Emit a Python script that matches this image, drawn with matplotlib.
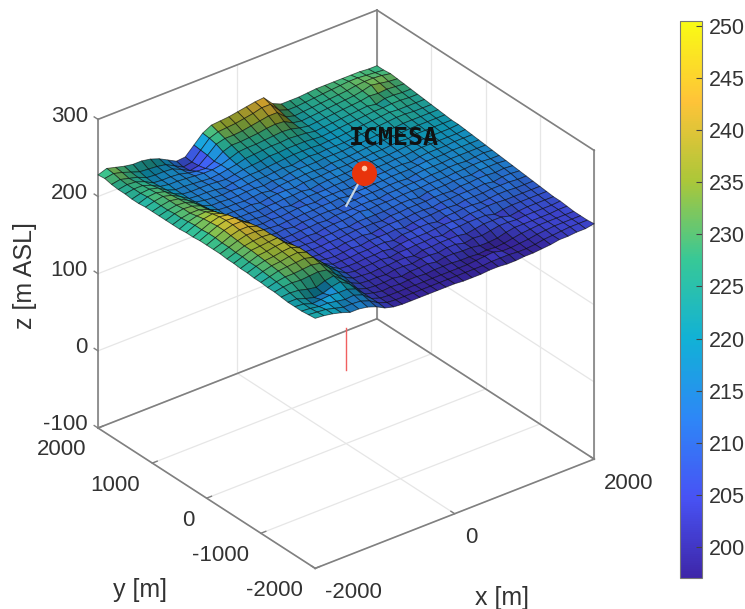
import numpy as np
import matplotlib
matplotlib.use('Agg')
import matplotlib.pyplot as plt
from matplotlib.colors import LinearSegmentedColormap, Normalize
from matplotlib.cm import ScalarMappable
from mpl_toolkits.mplot3d import proj3d

plt.rcParams['font.family'] = ['Liberation Sans', 'DejaVu Sans']

W, H = 745, 609

x_ticks = [-2000, 0, 2000]
y_ticks = [-2000, -1000, 0, 1000, 2000]
z_ticks = [-100, 0, 100, 200, 300]
cbar_ticks = [200, 205, 210, 215, 220, 225, 230, 235, 240, 245, 250]
site_name = 'ICMESA'
site_x, site_y, site_z = -50, -68, 213
head_x, head_y, head_z = 207, -68, 247
cmin, cmax = 197, 250.5

x_vals = np.linspace(-2000, 2000, 33)
y_vals = np.linspace(2000, -2000, 33)

# terrain heights, rows go from y=2000 to y=-2000
z_rows = [
    [228,232,229,226,224,224,222, 218,212,206,207,218,229,235,236,237,239,241,243,244,232,227,227,227,228,229,229,229,229,229,229,228,228],
    [229,231,228,224,220,219,218, 216,210,204,206,217,228,232,233,234,236,238,241,241,229,225,225,226,227,228,229,230,231,231,230,229,228],
    [227,229,226,223,218,217,217, 216,211,205,207,216,226,229,229,230,232,234,236,236,226,223,224,225,226,227,228,229,231,232,232,231,229],
    [226,228,227,223,217,216,216, 215,212,210,209,214,222,226,226,227,228,230,231,230,224,222,223,224,225,226,227,228,230,233,231,229,228],
    [226,228,228,224,218,216,216, 215,214,213,213,215,219,223,224,224,225,226,227,226,223,221,222,223,224,225,226,227,229,228,229,228,227],
    [225,228,229,226,219,215,215, 214,213,212,213,215,217,220,221,222,223,223,224,223,222,220,221,222,223,224,225,226,224,227,227,226,226],
    [225,229,230,227,220,215,214, 214,214,213,212,214,216,217,218,220,220,221,221,221,220,219,220,221,222,223,224,225,225,226,226,225,225],
    [226,229,231,228,222,215,214, 214,213,211,213,214,215,215,216,217,218,219,219,219,218,219,219,220,221,222,223,224,225,224,224,224,224],
    [226,229,231,229,223,216,214, 213,212,213,212,213,214,214,215,216,215,217,218,217,218,218,218,219,220,221,222,223,224,224,223,223,223],
    [226,229,231,230,225,217,213, 213,212,212,213,213,212,214,213,215,216,216,216,217,217,217,218,218,219,220,221,221,222,222,222,222,222],
    [226,230,232,231,227,218,213, 212,212,211,212,213,211,213,214,214,215,215,214,216,216,216,217,218,218,219,220,220,221,221,221,221,221],
    [226,230,232,232,228,220,212, 212,211,212,210,212,213,213,212,214,214,214,215,215,215,216,216,217,217,218,219,218,220,220,220,220,220],
    [226,231,234,235,231,222,213, 211,211,210,211,211,212,212,213,211,213,214,214,214,215,215,216,216,216,217,218,218,219,219,219,219,220],
    [227,232,236,238,234,224,213, 211,210,209,210,211,209,211,212,212,212,213,213,214,214,213,215,215,216,216,217,218,218,218,218,218,219],
    [227,232,237,240,238,228,214, 210,209,210,209,210,211,211,210,212,212,212,211,213,213,214,214,215,215,214,216,217,217,217,218,218,218],
    [228,233,238,241,240,231,215, 210,209,208,209,209,210,210,211,211,212,210,212,212,213,213,214,214,214,215,216,216,216,217,217,217,217],
    [228,233,238,241,241,234,216, 209,208,209,207,209,209,210,210,209,211,211,212,212,212,213,213,212,214,215,215,215,216,216,216,216,216],
    [228,232,237,240,240,236,218, 208,207,207,208,208,209,208,210,210,210,211,211,210,212,212,213,213,213,214,214,215,215,214,215,216,215],
    [228,232,236,239,239,237,221, 207,207,206,207,206,208,209,209,210,212,210,211,211,211,212,212,212,213,213,213,214,214,215,215,214,214],
    [227,231,235,237,238,237,224, 206,206,206,205,207,207,208,207,209,209,209,209,210,211,211,209,212,212,212,213,213,212,214,214,214,213],
    [227,231,235,236,237,238,227, 212,206,205,205,206,206,207,208,208,208,207,209,209,210,210,210,211,211,210,212,212,213,213,212,213,212],
    [226,230,234,235,237,238,230, 214,205,204,205,204,206,206,207,205,207,208,208,208,209,209,208,210,210,211,211,211,212,210,212,212,211],
    [226,230,233,234,236,237,232, 216,206,204,203,204,205,204,206,206,206,207,205,207,208,208,209,209,208,210,210,210,211,211,211,210,210],
    [225,229,232,233,235,236,232, 218,208,203,203,203,204,204,205,205,203,206,206,207,207,205,208,208,209,209,208,209,210,210,209,209,209],
    [225,228,231,232,233,234,231, 220,210,203,202,202,203,203,204,202,204,205,205,205,206,207,207,206,208,208,209,209,208,208,208,208,208],
    [224,227,229,229,230,231,229, 219,210,203,201,202,202,203,201,203,203,204,204,205,203,206,206,207,207,207,204,206,207,207,207,207,207],
    [224,226,227,226,227,228,226, 216,208,202,201,200,201,201,202,202,200,203,203,204,204,204,202,204,206,206,206,203,205,206,206,206,206],
    [223,224,223,220,218,222,224, 215,206,201,200,200,199,201,201,200,202,202,201,203,203,200,202,201,203,205,205,204,205,205,205,205,206],
    [222,222,218,215,216,220,222, 215,204,200,199,199,200,198,200,200,201,199,201,201,200,200,198,198,199,202,204,204,204,204,204,205,205],
    [222,221,217,218,219,218,218, 214,203,200,198,199,198,199,199,198,199,199,199,198,198,197,198,197,198,200,202,203,204,204,204,204,204],
    [222,221,219,219,217,215,216, 212,203,199,198,198,198,198,198,198,198,198,198,198,199,200,201,198,198,199,200,202,203,204,204,204,204],
    [223,222,221,218,215,215,214, 210,203,199,198,198,198,198,198,198,198,198,198,198,198,199,199,199,198,198,199,201,202,203,204,204,204],
    [224,223,221,218,214,214,212, 208,202,199,198,198,198,198,198,198,198,197,197,197,198,198,197,197,198,198,199,200,202,202,203,203,205],
]

parula = LinearSegmentedColormap.from_list('parula', [
    (0.2422, 0.1504, 0.6603), (0.2810, 0.3228, 0.9579), (0.1786, 0.5289, 0.9682),
    (0.0689, 0.6948, 0.8394), (0.2161, 0.7843, 0.5923), (0.6720, 0.7793, 0.2227),
    (0.9970, 0.7659, 0.2199), (0.9769, 0.9839, 0.0805)], N=256)
norm = Normalize(cmin, cmax)


def px(x, y):
    return x / W, 1 - y / H


fig = plt.figure(figsize=(W / 100, H / 100), dpi=100)
ax = fig.add_axes([0.1, 0.1, 0.7, 0.8], projection='3d', computed_zorder=False)
ax.set_proj_type('ortho')
ax.view_init(elev=30.2, azim=-127.9)
ax.set_box_aspect((1, 1, 1.01))
ax.set_xlim(-2000, 2000)
ax.set_ylim(-2000, 2000)
ax.set_zlim(-100, 300)
ax.set_axis_off()
ax.patch.set_alpha(0)

box_c = '#808080'
grid_c = '#e6e6e6'
xa, xb, ya, yb, za, zb = -2000, 2000, -2000, 2000, -100, 300

for v in x_ticks:
    ax.plot([v, v], [ya, yb], [za, za], color=grid_c, lw=0.9, zorder=1)
    ax.plot([v, v], [yb, yb], [za, zb], color=grid_c, lw=0.9, zorder=1)
for v in y_ticks:
    ax.plot([xa, xb], [v, v], [za, za], color=grid_c, lw=0.9, zorder=1)
    ax.plot([xb, xb], [v, v], [za, zb], color=grid_c, lw=0.9, zorder=1)
for v in z_ticks:
    ax.plot([xa, xb], [yb, yb], [v, v], color=grid_c, lw=0.9, zorder=1)
    ax.plot([xb, xb], [ya, yb], [v, v], color=grid_c, lw=0.9, zorder=1)

# the three back walls of the box
for seg in [([xa, xb], [ya, ya], [za, za]), ([xa, xa], [ya, yb], [za, za]),
            ([xa, xb], [yb, yb], [za, za]), ([xb, xb], [ya, yb], [za, za]),
            ([xa, xa], [yb, yb], [za, zb]), ([xb, xb], [yb, yb], [za, zb]),
            ([xb, xb], [ya, ya], [za, zb]), ([xa, xb], [yb, yb], [zb, zb]),
            ([xb, xb], [ya, yb], [zb, zb])]:
    ax.plot(*seg, color=box_c, lw=1.2, zorder=1.5)

for v in x_ticks:
    ax.plot([v, v], [ya, ya + 70], [za, za], color=box_c, lw=1, zorder=1.5)
for v in y_ticks:
    ax.plot([xa, xa + 70], [v, v], [za, za], color=box_c, lw=1, zorder=1.5)
for v in z_ticks:
    ax.plot([xa, xa], [yb, yb + 70], [v, v], color=box_c, lw=1, zorder=1.5, clip_on=False)

ax.plot([site_x, site_x], [site_y, site_y], [0, 55], color='#f06060', lw=1, zorder=1.6)

X, Y = np.meshgrid(x_vals, y_vals)
Z = np.array(z_rows, dtype=float)
# own relief shading, faces that tilt away from the light go darker
dr, dc = np.gradient(Z)
relief = np.clip(0.84 * (1 + 0.055 * (dr + 0.6) + 0.02 * (dc - 0.4)), 0.5, 1.0)
colors = parula(norm(Z))
colors[..., :3] = np.clip(colors[..., :3] * relief[..., None], 0, 1)
ax.plot_surface(X, Y, Z, rstride=1, cstride=1, facecolors=colors, shade=False,
                edgecolor=(0, 0, 0, 0.6), linewidth=0.6, antialiased=True, zorder=2)

ax.plot([site_x, head_x], [site_y, head_y], [site_z, head_z], color='#c9d6e2', lw=1.6, zorder=3)
head = ax.plot([head_x], [head_y], [head_z], 'o', color='#e8340c', ms=18, mec='none', zorder=4)
head[0].set_snap(False)
spot = ax.plot([head_x], [head_y], [head_z + 6], 'o', color='#ffc9a8', ms=4, mec='none', zorder=5)
spot[0].set_snap(False)

# fit the box on its place in the figure: left corner and right corner of the floor
target_a, target_b = (98, 428), (594, 462)
for _ in range(4):
    fig.canvas.draw()
    M = ax.get_proj()
    pts = []
    for c in [(xa, yb, za), (xb, ya, za)]:
        p = proj3d.proj_transform(c[0], c[1], c[2], M)
        pts.append(ax.transData.transform((p[0], p[1])))
    cur = np.hypot(*(pts[1] - pts[0]))
    want = np.hypot(target_b[0] - target_a[0], target_b[1] - target_a[1])
    s = want / cur
    pos = ax.get_position()
    cx, cy = pos.x0 * W, pos.y0 * H
    nw, nh = pos.width * W * s, pos.height * H * s
    px_a = pts[0]
    new_ax = cx + (px_a[0] - cx) * s
    new_ay = cy + (px_a[1] - cy) * s
    dx = target_a[0] - new_ax
    dy = (H - target_a[1]) - new_ay
    ax.set_position([(cx + dx) / W, (cy + dy) / H, nw / W, nh / H])
fig.canvas.draw()
M = ax.get_proj()


def tick_text(x, y, z, s, dx, dy, ha):
    p = proj3d.proj_transform(x, y, z, M)
    ax.annotate(s, xy=(p[0], p[1]), xycoords='data', xytext=(dx * 0.72, -dy * 0.72),
                textcoords='offset points', ha=ha, va='center', fontsize=16, color='#333333',
                annotation_clip=False)


for v in z_ticks:
    tick_text(xa, yb, v, str(v), -10, -3, 'right')
for v in y_ticks:
    tick_text(xa, v, za, str(v), -12, 22, 'right')
for v in x_ticks:
    tick_text(v, ya, za, str(v), 10, 24, 'left')

fig.text(*px(25, 276), 'z [m ASL]', rotation=90, ha='center', va='center', fontsize=18, color='#333333')
fig.text(*px(140, 590), 'y [m]', ha='center', va='center', fontsize=18, color='#333333')
fig.text(*px(502, 598), 'x [m]', ha='center', va='center', fontsize=18, color='#333333')
fig.text(*px(394, 138), site_name, ha='center', va='center', fontsize=18, fontweight='bold',
         family='DejaVu Sans Mono', color='#111111', zorder=10)

cax = fig.add_axes([680 / W, 1 - 578 / H, 22 / W, 557 / H])
cb = fig.colorbar(ScalarMappable(norm=norm, cmap=parula), cax=cax, ticks=cbar_ticks)
cb.ax.tick_params(direction='in', length=4, width=0.8, labelsize=15.5, labelcolor='#333333', color='#444444', pad=5)
cb.outline.set_edgecolor('#777777')
cb.outline.set_linewidth(0.8)

fig.savefig('out.png', dpi=100)
